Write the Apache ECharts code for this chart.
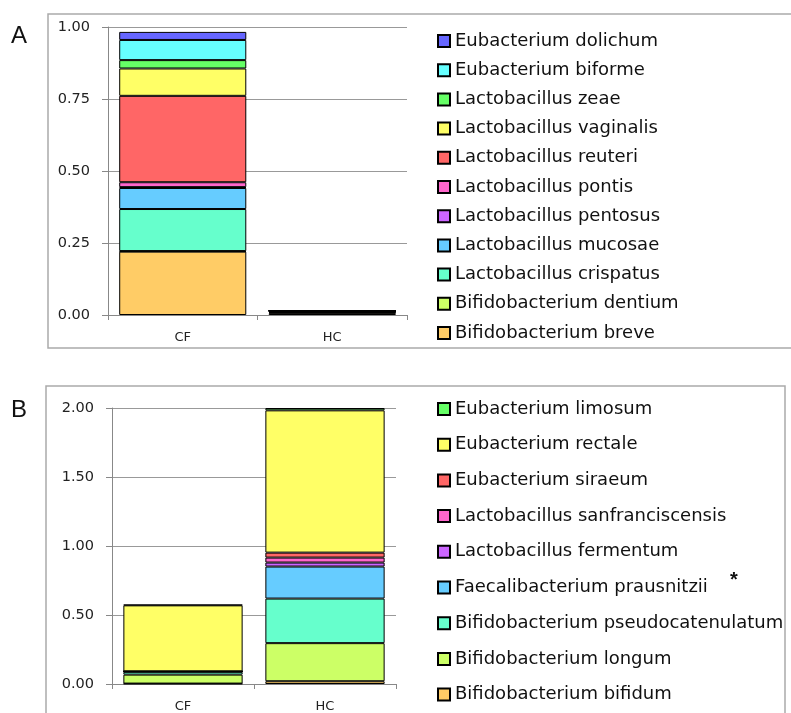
<!DOCTYPE html>
<html>
<head>
<meta charset="utf-8">
<script src="https://cdn.jsdelivr.net/npm/echarts@6/dist/echarts.min.js"></script>
<style>
  html, body { margin: 0; padding: 0; background: #fff; }
  #main { width: 791px; height: 713px; }
</style>
</head>
<body>
<div id="main"></div>
<script>
var categories = ['CF', 'HC'];

// panel A, listed bottom of stack first
var namesA = ['Bifidobacterium breve', 'Bifidobacterium dentium', 'Lactobacillus crispatus',
    'Lactobacillus mucosae', 'Lactobacillus pentosus', 'Lactobacillus pontis',
    'Lactobacillus reuteri', 'Lactobacillus vaginalis', 'Lactobacillus zeae',
    'Eubacterium biforme', 'Eubacterium dolichum'];
var colorsA = ['#ffcc66', '#ccff66', '#66ffcc', '#66ccff', '#cc66ff', '#ff66cc',
    '#ff6666', '#ffff66', '#66ff66', '#66ffff', '#6666ff'];
var breveA = [0.220, 0.006];
var dentiumA = [0.002, 0.002];
var crispatusA = [0.146, 0.002];
var mucosaeA = [0.073, 0.002];
var pentosusA = [0.003, 0.001];
var pontisA = [0.017, 0.001];
var reuteriA = [0.300, 0.001];
var vaginalisA = [0.095, 0];
var zeaeA = [0.029, 0];
var biformeA = [0.070, 0];
var dolichumA = [0.028, 0];
var valuesA = [breveA, dentiumA, crispatusA, mucosaeA, pentosusA, pontisA,
    reuteriA, vaginalisA, zeaeA, biformeA, dolichumA];

// panel B, listed bottom of stack first
var namesB = ['Bifidobacterium bifidum', 'Bifidobacterium longum', 'Bifidobacterium pseudocatenulatum',
    'Faecalibacterium prausnitzii', 'Lactobacillus fermentum', 'Lactobacillus sanfranciscensis',
    'Eubacterium siraeum', 'Eubacterium rectale', 'Eubacterium limosum'];
var colorsB = ['#ffcc66', '#ccff66', '#66ffcc', '#66ccff', '#cc66ff', '#ff66cc',
    '#ff6666', '#ffff66', '#66ff66'];
var bifidumB = [0.003, 0.020];
var longumB = [0.065, 0.276];
var pseudoB = [0.020, 0.323];
var prausnitziiB = [0.004, 0.232];
var fermentumB = [0, 0.029];
var sanfranB = [0, 0.036];
var siraeumB = [0, 0.036];
var rectaleB = [0.478, 1.031];
var limosumB = [0.005, 0.017];
var valuesB = [bifidumB, longumB, pseudoB, prausnitziiB, fermentumB, sanfranB,
    siraeumB, rectaleB, limosumB];

var font = 'DejaVu Sans, Verdana, sans-serif';
var series = [];
namesA.forEach(function (n, i) {
    series.push({
        name: n, type: 'bar', stack: 'a', xAxisIndex: 0, yAxisIndex: 0,
        barCategoryGap: '15%', data: valuesA[i],
        itemStyle: { color: colorsA[i], borderColor: '#000', borderWidth: 1 }
    });
});
namesB.forEach(function (n, i) {
    series.push({
        name: n, type: 'bar', stack: 'b', xAxisIndex: 1, yAxisIndex: 1,
        barCategoryGap: '16%', data: valuesB[i],
        itemStyle: { color: colorsB[i], borderColor: '#000', borderWidth: 1 }
    });
});

function xAx(idx) {
    return {
        type: 'category', gridIndex: idx, data: categories,
        axisLine: { lineStyle: { color: '#888' } },
        axisTick: { show: true, length: 5, lineStyle: { color: '#888' } },
        axisLabel: { color: '#222', fontFamily: font, fontSize: 13, margin: 16 }
    };
}
function yAx(idx, max, step) {
    return {
        type: 'value', gridIndex: idx, min: 0, max: max, interval: step,
        axisLine: { show: true, lineStyle: { color: '#888' } },
        axisTick: { show: true, length: 6, lineStyle: { color: '#888' } },
        splitLine: { lineStyle: { color: '#999' } },
        axisLabel: {
            color: '#222', fontFamily: font, fontSize: 14.5, margin: 18,
            formatter: function (v) { return v.toFixed(2); }
        }
    };
}
function legendOf(names, top, gap) {
    return {
        orient: 'vertical', left: 432, top: top, itemGap: gap,
        itemWidth: 12, itemHeight: 12, icon: 'rect',
        data: names.slice().reverse(),
        textStyle: { color: '#111', fontFamily: font, fontSize: 18 }
    };
}

var myChart = echarts.init(document.getElementById('main'));
var option = {
    backgroundColor: '#fff',
    animation: false,
    grid: [
        { left: 108, right: 384, top: 27, bottom: 398 },
        { left: 112, right: 395, top: 408, bottom: 28 }
    ],
    xAxis: [xAx(0), xAx(1)],
    yAxis: [yAx(0, 1, 0.25), yAx(1, 2, 0.5)],
    legend: [legendOf(namesA, 27, 11.2), legendOf(namesB, 395, 17.7)],
    graphic: [
        { type: 'rect', shape: { x: 48, y: 14, width: 760, height: 334 },
          style: { fill: 'none', stroke: '#aaa', lineWidth: 1.5 }, z: -1 },
        { type: 'rect', shape: { x: 46, y: 386, width: 739, height: 340 },
          style: { fill: 'none', stroke: '#aaa', lineWidth: 1.5 }, z: -1 },
        { type: 'text', left: 11, top: 24, style: { text: 'A', font: '24px "Liberation Sans", Arial, sans-serif', fill: '#111' } },
        { type: 'text', left: 11, top: 398, style: { text: 'B', font: '24px "Liberation Sans", Arial, sans-serif', fill: '#111' } },
        { type: 'text', left: 730, top: 570, style: { text: '*', font: 'bold 20px "Liberation Sans", Arial, sans-serif', fill: '#111' } }
    ],
    series: series
};
myChart.setOption(option);
</script>
</body>
</html>
